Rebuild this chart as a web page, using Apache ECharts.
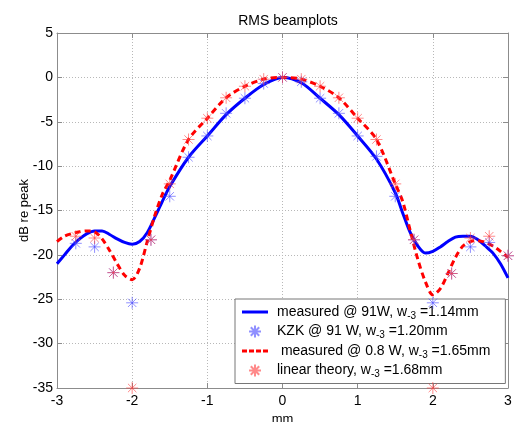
<!DOCTYPE html>
<html>
<head>
<meta charset="utf-8">
<script src="https://cdn.jsdelivr.net/npm/echarts@6/dist/echarts.min.js"></script>
<style>
  html, body { margin: 0; padding: 0; background: #fff; }
  #chart { width: 514px; height: 422px; }
</style>
</head>
<body>
<div id="chart"></div>
<script>
// measured @ 91 W (blue solid)
var hiX = [-3, -2.9, -2.8, -2.7, -2.6, -2.5, -2.4, -2.3, -2.2, -2.1, -2, -1.9, -1.8, -1.7, -1.6, -1.5, -1.25, -1, -0.75, -0.5, -0.25, 0,
           0.25, 0.5, 0.75, 1, 1.25, 1.5, 1.6, 1.7, 1.8, 1.9, 2, 2.1, 2.2, 2.3, 2.4, 2.5, 2.6, 2.7, 2.8, 2.9, 3];
var hiY = [-21.0, -20.0, -19.0, -18.2, -17.6, -17.3, -17.3, -17.7, -18.2, -18.6, -18.8, -18.5, -17.5, -15.8, -14.0, -12.3, -9.0, -6.6, -4.2, -2.35, -0.8, 0,
           -0.6, -2.35, -4.2, -6.6, -9.2, -13.0, -15.3, -17.5, -19.0, -19.8, -19.6, -19.1, -18.5, -18.0, -17.9, -17.9, -18.3, -19.0, -19.8, -21.0, -22.6];

// measured @ 0.8 W (red dashed)
var loX = [-3, -2.9, -2.8, -2.7, -2.6, -2.5, -2.4, -2.3, -2.2, -2.1, -2, -1.9, -1.8, -1.7, -1.6, -1.5, -1.25, -1, -0.75, -0.5, -0.25, 0,
           0.25, 0.5, 0.75, 1, 1.25, 1.5, 1.6, 1.7, 1.8, 1.9, 2, 2.1, 2.2, 2.3, 2.4, 2.5, 2.6, 2.7, 2.8, 2.9, 3];
var loY = [-18.5, -17.9, -17.6, -17.4, -17.3, -17.4, -18.2, -19.5, -21.0, -22.3, -22.8, -21.5, -18.5, -15.6, -13.2, -11.6, -7.0, -4.6, -2.3, -1.0, -0.2, 0,
           -0.2, -1.0, -2.3, -4.6, -7.0, -12.0, -14.0, -17.3, -20.5, -23.0, -24.5, -23.8, -22.1, -20.3, -19.0, -18.5, -18.4, -18.6, -19.0, -19.6, -20.3];

// star points, every 0.25 mm
var starX = [-2.75, -2.5, -2.25, -2, -1.75, -1.5, -1.25, -1, -0.75, -0.5, -0.25, 0,
             0.25, 0.5, 0.75, 1, 1.25, 1.5, 1.75, 2, 2.25, 2.5, 2.75, 3];
var kzkY = [-18.7, -19.1, -22.0, -25.4, -18.3, -13.4, -9.0, -6.6, -4.05, -2.35, -0.7, 0,
            -0.5, -2.35, -4.05, -6.6, -8.9, -13.4, -18.3, -25.4, -22.1, -19.1, -18.6, -20.1];
var linY = [-17.9, -18.1, -22.0, -35, -18.3, -12.0, -7.0, -4.6, -2.3, -1.0, -0.2, 0,
            -0.2, -1.0, -2.3, -4.6, -7.0, -12.0, -18.3, -35, -22.1, -18.1, -17.9, -20.1];

var names = ['measured @ 91W, w{s|-3} =1.14mm', 'KZK @ 91 W, w{s|-3} =1.20mm',
             ' measured @ 0.8 W, w{s|-3} =1.65mm', 'linear theory, w{s|-3} =1.68mm'];

function pairs(xs, ys) {
  var out = [];
  for (var i = 0; i < xs.length; i++) out.push([xs[i], ys[i]]);
  return out;
}

var star = 'path://M5,0L5,10M0,5L10,5M1.5,1.5L8.5,8.5M1.5,8.5L8.5,1.5';
var solidIcon = 'path://M0,0H26V3H0Z';
var dashIcon = 'path://M0,0H5V3H0ZM7,0H12V3H7ZM14,0H19V3H14ZM21,0H26V3H21Z';
var font = 'Liberation Sans';
var frame = '#8c8c8c';

var chart = echarts.init(document.getElementById('chart'));

var axisX = function (pos, show) {
  return {
    type: 'value', position: pos, min: -3, max: 3, interval: 1,
    name: show ? 'mm' : '', nameLocation: 'middle', nameGap: 23,
    nameTextStyle: { color: '#000', fontSize: 13, fontFamily: font },
    axisLine: { show: true, onZero: false, lineStyle: { color: frame } },
    axisTick: { show: true, inside: true, length: 5, lineStyle: { color: frame } },
    axisLabel: { show: show, color: '#000', fontSize: 14, fontFamily: font, margin: 6 },
    splitLine: { show: show, lineStyle: { color: '#b8b8b8', type: [1, 2] } }
  };
};
var axisY = function (pos, show) {
  return {
    type: 'value', position: pos, min: -35, max: 5, interval: 5,
    name: show ? 'dB re peak' : '', nameLocation: 'middle', nameGap: 26, nameMoveOverlap: false,
    nameTextStyle: { color: '#000', fontSize: 13, fontFamily: font },
    axisLine: { show: true, onZero: false, lineStyle: { color: frame } },
    axisTick: { show: true, inside: true, length: 5, lineStyle: { color: frame } },
    axisLabel: { show: show, color: '#000', fontSize: 14, fontFamily: font, margin: 4 },
    splitLine: { show: show, lineStyle: { color: '#b8b8b8', type: [1, 2] } }
  };
};

var option = {
  animation: false,
  backgroundColor: '#fff',
  title: {
    text: 'RMS beamplots', left: 283, top: 9, textAlign: 'center',
    textStyle: { color: '#000', fontSize: 14, fontWeight: 'normal', fontFamily: font }
  },
  grid: { left: 57, right: 6, top: 33, bottom: 34, outerBoundsMode: 'none' },
  xAxis: [axisX('bottom', true), axisX('top', false)],
  yAxis: [axisY('left', true), axisY('right', false)],
  legend: {
    orient: 'vertical', left: 235, top: 299, width: 270,
    padding: [4, 15, 4, 7], itemGap: 1.5, itemWidth: 26, itemHeight: 12,
    backgroundColor: '#fff', borderColor: '#777', borderWidth: 1,
    textStyle: {
      color: '#000', fontSize: 14, fontFamily: font, lineHeight: 18, padding: [0, 0, 0, 4],
      rich: { s: { fontSize: 10, fontFamily: font, lineHeight: 18, verticalAlign: 'bottom' } }
    },
    data: [
      { name: names[0], icon: solidIcon },
      { name: names[1] },
      { name: names[2], icon: dashIcon },
      { name: names[3] }
    ]
  },
  series: [
    {
      name: names[0], type: 'line', data: pairs(hiX, hiY), smooth: 0.3,
      symbol: 'none', lineStyle: { color: '#0000ff', width: 3 }, itemStyle: { color: '#0000ff' }, z: 3
    },
    {
      name: names[1], type: 'scatter', data: pairs(starX, kzkY), clip: false,
      symbol: star, symbolSize: 12,
      itemStyle: { color: 'rgba(0,0,0,0)', borderColor: 'rgba(70,70,255,0.75)', borderWidth: 1 }, z: 4
    },
    {
      name: names[2], type: 'line', data: pairs(loX, loY), smooth: 0.3,
      symbol: 'none', lineStyle: { color: '#ff0000', width: 3, type: [6, 4] }, itemStyle: { color: '#ff0000' }, z: 3
    },
    {
      name: names[3], type: 'scatter', data: pairs(starX, linY), clip: false,
      symbol: star, symbolSize: 12,
      itemStyle: { color: 'rgba(0,0,0,0)', borderColor: 'rgba(255,60,60,0.75)', borderWidth: 1 }, z: 4
    }
  ]
};

chart.setOption(option);
window.onresize = function () {
  chart.resize();
};
</script>
</body>
</html>
